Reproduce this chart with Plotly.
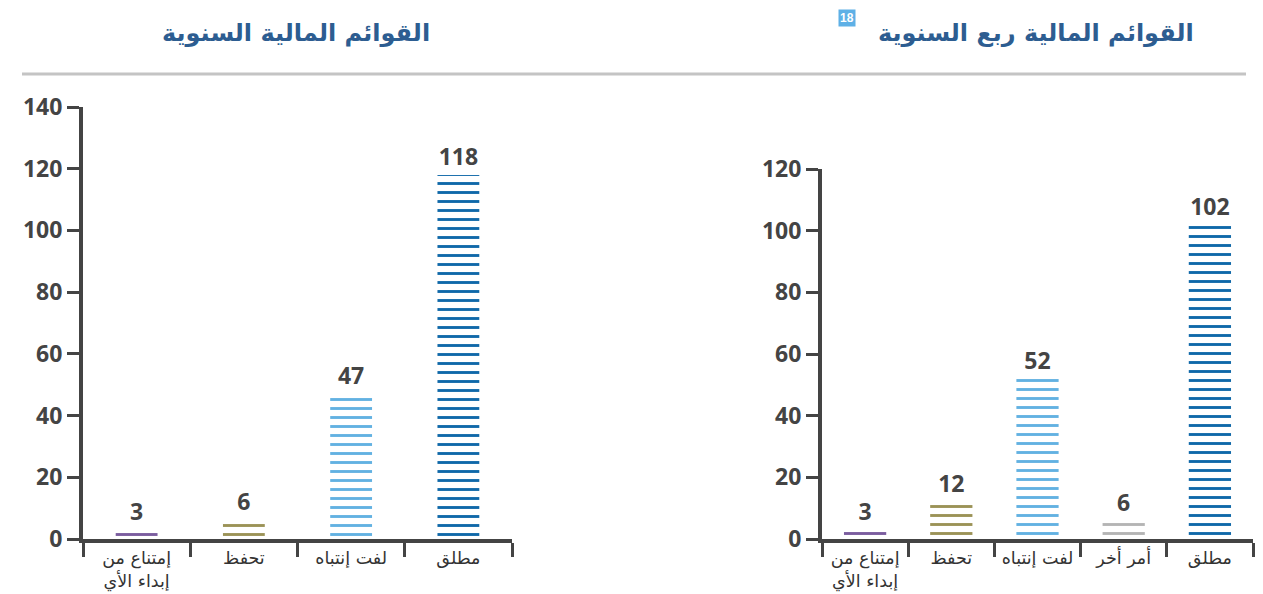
import plotly.graph_objects as go

# ---- data ----
annual_categories = ["إمتناع من<br>إبداء الأي", "تحفظ", "لفت إنتباه", "مطلق"]
annual_values = [3, 6, 47, 118]
annual_colors = ["#7a5c9e", "#9b9256", "#62b1e2", "#0f68a9"]

quarter_categories = ["إمتناع من<br>إبداء الأي", "تحفظ", "لفت إنتباه", "أمر أخر", "مطلق"]
quarter_values = [3, 12, 52, 6, 102]
quarter_colors = ["#7a5c9e", "#9b9256", "#62b1e2", "#b4b4b4", "#0f68a9"]

annual_title = "القوائم المالية السنوية"
quarter_title = "القوائم المالية ربع السنوية"
badge = "18"

# page body has an 8px margin; figure is sized/offset to compensate
OFF = 8
W, H = 1263 - OFF, 594 - OFF
AXC = "#444444"
TXT = "#444444"


def fx(p):
    return (p - OFF) / W


def fy(p):
    return 1 - (p - OFF) / H


fig = go.Figure()


def add_bars(cats, vals, cols, xa, ya, width):
    fig.add_trace(go.Bar(
        x=cats, y=vals, xaxis=xa, yaxis=ya, width=width,
        marker=dict(color=cols, line=dict(width=0),
                    pattern=dict(shape="-", size=9, solidity=0.32,
                                 fgcolor=cols, bgcolor="white", fillmode="replace")),
        text=[str(v) for v in vals], textposition="outside", cliponaxis=False,
        textfont=dict(family="Open Sans", size=23, color=TXT, weight=700),
        showlegend=False, hoverinfo="x+y",
    ))


add_bars(annual_categories, annual_values, annual_colors, "x", "y", 0.39)
add_bars(quarter_categories, quarter_values, quarter_colors, "x2", "y2", 0.49)

xcommon = dict(showline=True, linewidth=4, linecolor=AXC, ticks="outside", tickson="boundaries",
               ticklen=14, tickwidth=3, tickcolor=AXC, showgrid=False, zeroline=False,
               automargin=False,
               tickfont=dict(family="DejaVu Sans", size=17.5, color="#333333"),
               fixedrange=True)
ycommon = dict(showline=True, linewidth=4, linecolor=AXC, ticks="outside", ticklen=12,
               tickwidth=3, tickcolor=AXC, showgrid=False, zeroline=False, dtick=20,
               automargin=False,
               tickfont=dict(family="Open Sans", size=23, color=TXT, weight=700),
               fixedrange=True)

fig.update_layout(
    template="none",
    width=W, height=H,
    margin=dict(l=0, r=0, t=0, b=0, autoexpand=False),
    plot_bgcolor="white", paper_bgcolor="white",
    bargap=0.5,
    xaxis=dict(domain=[fx(83), fx(512)], anchor="y", **xcommon),
    yaxis=dict(domain=[fy(539), fy(107)], range=[0, 140], anchor="x", **ycommon),
    xaxis2=dict(domain=[fx(822), fx(1253)], anchor="y2", **xcommon),
    yaxis2=dict(domain=[fy(539), fy(169)], range=[0, 120], anchor="x2", **ycommon),
    shapes=[dict(type="line", xref="paper", yref="paper", x0=fx(22), x1=fx(1246),
                 y0=fy(74), y1=fy(74), line=dict(color="#c4c4c4", width=3))],
    annotations=[
        dict(text=annual_title, xref="paper", yref="paper", x=fx(296), y=fy(33),
             xanchor="center", yanchor="middle", showarrow=False,
             font=dict(family="DejaVu Sans", size=24, color="#2d5d91", weight=700)),
        dict(text=quarter_title, xref="paper", yref="paper", x=fx(1036), y=fy(33),
             xanchor="center", yanchor="middle", showarrow=False,
             font=dict(family="DejaVu Sans", size=24, color="#2d5d91", weight=700)),
        dict(text=badge, xref="paper", yref="paper", x=fx(847), y=fy(18),
             xanchor="center", yanchor="middle", showarrow=False, bgcolor="#5eb0e6",
             borderpad=1,
             font=dict(family="Liberation Sans", size=12, color="white", weight=700)),
    ],
)

fig.write_html("out.html")
